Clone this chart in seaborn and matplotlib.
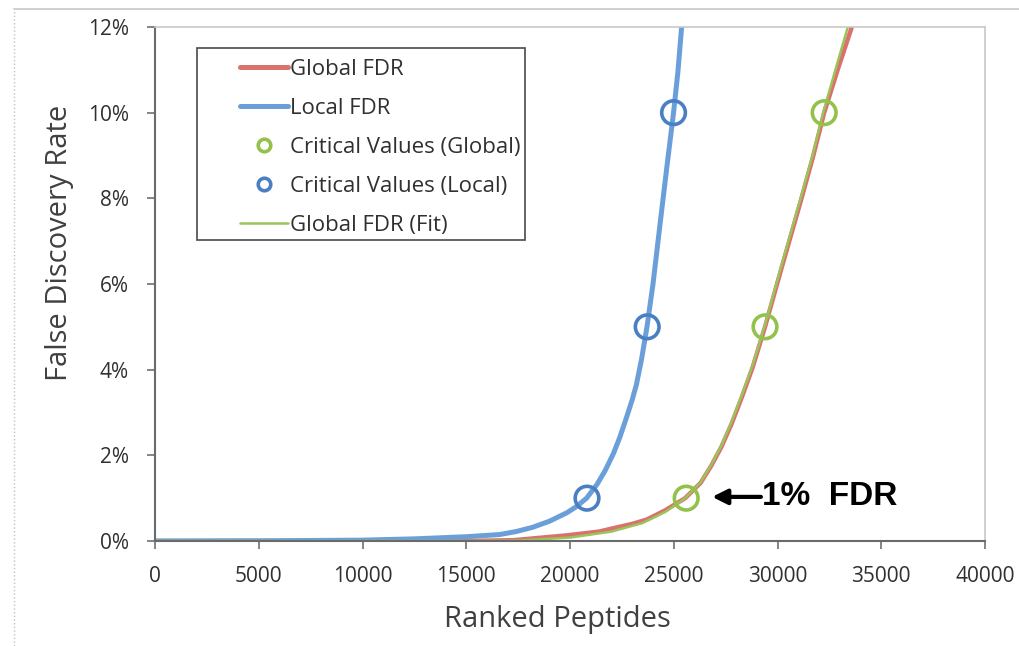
import matplotlib
matplotlib.use("Agg")
import matplotlib.pyplot as plt
from matplotlib.lines import Line2D
from matplotlib.patches import Rectangle
from matplotlib.legend_handler import HandlerLine2D
from matplotlib.ticker import FuncFormatter
import seaborn as sns
import pandas as pd

# ---- data ----
global_x = [0, 5000, 10000, 15000, 17300, 19800, 21400, 22100, 23000, 23700, 24600,
            25550, 26300, 26800, 27300, 27800, 28300, 28800, 29400, 30200, 31100,
            31700, 32250, 32900, 33650]
global_y = [0, 0, 0, 0.0, 0.02, 0.13, 0.22, 0.30, 0.40, 0.50, 0.72,
            1.0, 1.36, 1.75, 2.2, 2.75, 3.38, 4.05, 5.0, 6.38, 7.9,
            8.95, 10.0, 11.0, 12.1]

fit_x = [0, 5000, 10000, 15000, 17500, 20000, 22000, 23500, 24600, 25550, 26300,
         26800, 27300, 27800, 28300, 28800, 29400, 30200, 31100, 31700, 32200,
         32850, 33450]
fit_y = [0, 0, 0, 0, 0.01, 0.08, 0.22, 0.42, 0.68, 1.0, 1.37,
         1.77, 2.23, 2.8, 3.43, 4.1, 5.05, 6.45, 7.98, 9.02, 10.0,
         11.1, 12.1]

local_x = [0, 5000, 10000, 12500, 15000, 16600, 17400, 18200, 19000, 19850, 20300,
           20800, 21300, 21700, 22100, 22400, 22700, 23000, 23200, 23450, 23710,
           24000, 24340, 24660, 24990, 25200, 25380]
local_y = [0, 0.005, 0.02, 0.05, 0.10, 0.15, 0.22, 0.32, 0.46, 0.66, 0.80,
           1.0, 1.32, 1.65, 2.05, 2.42, 2.85, 3.3, 3.65, 4.25, 5.0,
           6.0, 7.4, 8.7, 10.0, 10.95, 12.0]

crit_global_x = [25600, 29400, 32250]
crit_global_y = [1, 5, 10]
crit_local_x = [20820, 23720, 24990]
crit_local_y = [1, 5, 10]

x_ticks = [0, 5000, 10000, 15000, 20000, 25000, 30000, 35000, 40000]
y_ticks = [0, 2, 4, 6, 8, 10, 12]

labels = ["Global FDR", "Local FDR", "Critical Values (Global)",
          "Critical Values (Local)", "Global FDR (Fit)"]

# ---- styles ----
RED = "#d9716c"
BLUE = "#6a9fd9"
BLUE_DK = "#4a7fc4"
GREEN = "#9bc45a"
GREEN_C = "#93c24a"

sns.set_style("white")
plt.rcParams["font.family"] = ["Open Sans", "DejaVu Sans"]

fig = plt.figure(figsize=(10.19, 6.46), dpi=100)
ax = fig.add_axes([155 / 1019, 1 - 541 / 646, 830 / 1019, 514 / 646])

df_g = pd.DataFrame({"x": global_x, "y": global_y})
df_f = pd.DataFrame({"x": fit_x, "y": fit_y})
df_l = pd.DataFrame({"x": local_x, "y": local_y})
df_cg = pd.DataFrame({"x": crit_global_x, "y": crit_global_y})
df_cl = pd.DataFrame({"x": crit_local_x, "y": crit_local_y})

sns.lineplot(data=df_g, x="x", y="y", ax=ax, color=RED, lw=3.2, estimator=None)
sns.lineplot(data=df_l, x="x", y="y", ax=ax, color=BLUE, lw=3.6, estimator=None)
sns.lineplot(data=df_f, x="x", y="y", ax=ax, color=GREEN, lw=1.8, estimator=None)
sns.scatterplot(data=df_cg, x="x", y="y", ax=ax, marker="o", s=290,
                facecolor="none", edgecolor=GREEN_C, linewidth=2.6, zorder=5)
sns.scatterplot(data=df_cl, x="x", y="y", ax=ax, marker="o", s=290,
                facecolor="none", edgecolor=BLUE_DK, linewidth=2.6, zorder=5)

ax.set_xlim(0, 40000)
ax.set_ylim(0, 12)
ax.set_xticks(x_ticks)
ax.set_yticks(y_ticks)
ax.yaxis.set_major_formatter(FuncFormatter(lambda v, p: f"{int(v)}%"))
ax.tick_params(axis="both", direction="out", length=6, width=1.2, color="#707070",
               labelsize=15, labelcolor="#303030", bottom=True, left=True)
ax.tick_params(axis="x", pad=12)
ax.tick_params(axis="y", pad=13)

for s in ["left", "bottom"]:
    ax.spines[s].set_color("#6a6a6a")
    ax.spines[s].set_linewidth(1.5)
for s in ["top", "right"]:
    ax.spines[s].set_color("#c8c8c8")
    ax.spines[s].set_linewidth(1.2)

ax.set_xlabel("Ranked Peptides", fontsize=21, color="#404040", labelpad=13)
ax.set_ylabel("False Discovery Rate", fontsize=21, color="#404040", labelpad=10)
ax.xaxis.label.set_x((557 - 155) / 830)
ax.yaxis.label.set_y((541 - 243) / 514)

# annotation
ax.annotate("", xy=(26850, 1.03), xytext=(29200, 1.03),
            arrowprops=dict(arrowstyle="-|>,head_length=0.9,head_width=0.45",
                            lw=3, color="black", shrinkA=0, shrinkB=0))
ax.text(29250, 1.03, "1%  FDR", fontsize=24, fontweight="bold",
        family=["Liberation Sans", "DejaVu Sans"], va="center", ha="left", color="black")

# legend
class LeftMarker(HandlerLine2D):
    def get_xdata(self, legend, xdescent, ydescent, width, height, fontsize):
        return [-xdescent, width - xdescent], [0.16 * width - xdescent]

handles = [
    Line2D([], [], color=RED, lw=3.6),
    Line2D([], [], color=BLUE, lw=3.6),
    Line2D([], [], ls="none", marker="o", ms=9, mfc="none", mec=GREEN_C, mew=2.6),
    Line2D([], [], ls="none", marker="o", ms=9, mfc="none", mec=BLUE_DK, mew=2.6),
    Line2D([], [], color=GREEN, lw=1.8),
]
leg = ax.legend(handles, labels, loc="upper left",
                bbox_to_anchor=((240 - 155) / 830, (541 - 59) / 514),
                borderaxespad=0, borderpad=0, frameon=False, fontsize=16,
                handlelength=2.15, handletextpad=0.1, labelspacing=0.81,
                handler_map={h: LeftMarker() for h in handles[2:4]})
for t in leg.get_texts():
    t.set_color("#303030")

fig.patches.append(Rectangle((197 / 1019, 1 - 240 / 646), 328 / 1019, 192 / 646,
                             transform=fig.transFigure, fill=False,
                             edgecolor="#4a4a4a", lw=1.2, zorder=10))

# outer frame of the original figure
fig.lines.append(Line2D([14 / 1019, 1.0], [1 - 9 / 646, 1 - 9 / 646],
                        transform=fig.transFigure, color="#c8c8c8", lw=1.2))
fig.lines.append(Line2D([14 / 1019, 14 / 1019], [0, 1 - 9 / 646],
                        transform=fig.transFigure, color="#c0c0c0", lw=1.0, ls=":"))

fig.savefig("out.png", dpi=100)
